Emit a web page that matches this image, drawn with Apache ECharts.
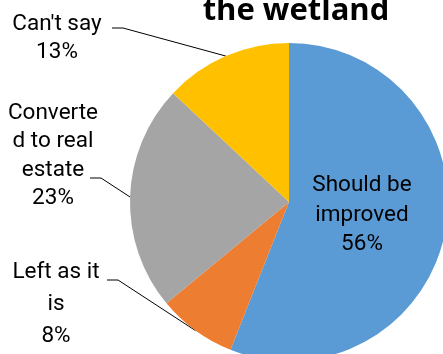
<!DOCTYPE html>
<html>
<head>
<meta charset="utf-8">
<title>the wetland</title>
<script src="https://cdn.jsdelivr.net/npm/echarts@6/dist/echarts.min.js"></script>
<style>
  html, body { margin: 0; padding: 0; background: #fff; }
  #chart { width: 443px; height: 354px; }
</style>
</head>
<body>
<div id="chart"></div>
<script>
// Survey answers, clockwise from 12 o'clock
var categories = ["Should be improved", "Left as it is", "Converted to real estate", "Can't say"];
var shares = [56, 8, 23, 13];
// Wrapped label text as it is set in each slice label
var labelText = ["Should be\nimproved", "Left as it\nis", "Converte\nd to real\nestate", "Can't say"];
var sliceColors = ["#5B9BD5", "#ED7D31", "#A5A5A5", "#FFC000"];

// Label placement: block centre, line pitch, and where the leader line meets the text
var labelPlacement = [
  { x: 362, y: 215, lh: 29.5, inside: true },
  { x: 56, y: 304, lh: 32, lineX: 107, lineY: 280 },
  { x: 53, y: 156, lh: 28.5, lineX: 90, lineY: 178 },
  { x: 57, y: 38, lh: 28, lineX: 112, lineY: 28 }
];

var chart = echarts.init(document.getElementById('chart'), null, { renderer: 'canvas' });

var pieData = categories.map(function (name, i) {
  var p = labelPlacement[i];
  return {
    name: name,
    value: shares[i],
    itemStyle: { color: sliceColors[i] },
    label: { position: p.inside ? 'inside' : 'outside', lineHeight: p.lh },
    labelLine: { show: !p.inside }
  };
});

chart.setOption({
  animation: false,
  backgroundColor: '#ffffff',
  title: {
    text: 'the wetland',
    left: 291,
    top: -12,
    textAlign: 'center',
    textStyle: {
      fontFamily: 'Open Sans',
      fontWeight: 'bold',
      fontSize: 31,
      lineHeight: 36,
      color: '#000'
    }
  },
  series: [{
    type: 'pie',
    center: [289, 202],
    radius: 159,
    startAngle: 90,
    clockwise: true,
    avoidLabelOverlap: false,
    data: pieData,
    itemStyle: { borderWidth: 0 },
    label: {
      show: true,
      fontFamily: 'Roboto',
      fontSize: 22.5,
      color: '#000',
      align: 'center',
      formatter: function (p) {
        return labelText[p.dataIndex] + '\n' + p.percent + '%';
      }
    },
    labelLine: {
      show: true,
      smooth: false,
      lineStyle: { color: '#000', width: 1 }
    },
    emphasis: { disabled: true },
    labelLayout: function (params) {
      var p = labelPlacement[params.dataIndex];
      var out = { x: p.x, y: p.y, align: 'center', verticalAlign: 'middle' };
      if (!p.inside && params.labelLinePoints) {
        var edge = params.labelLinePoints[0];
        out.labelLinePoints = [
          [edge[0], edge[1]],
          [p.lineX + 11, p.lineY],
          [p.lineX, p.lineY]
        ];
      }
      return out;
    }
  }]
});
</script>
</body>
</html>
